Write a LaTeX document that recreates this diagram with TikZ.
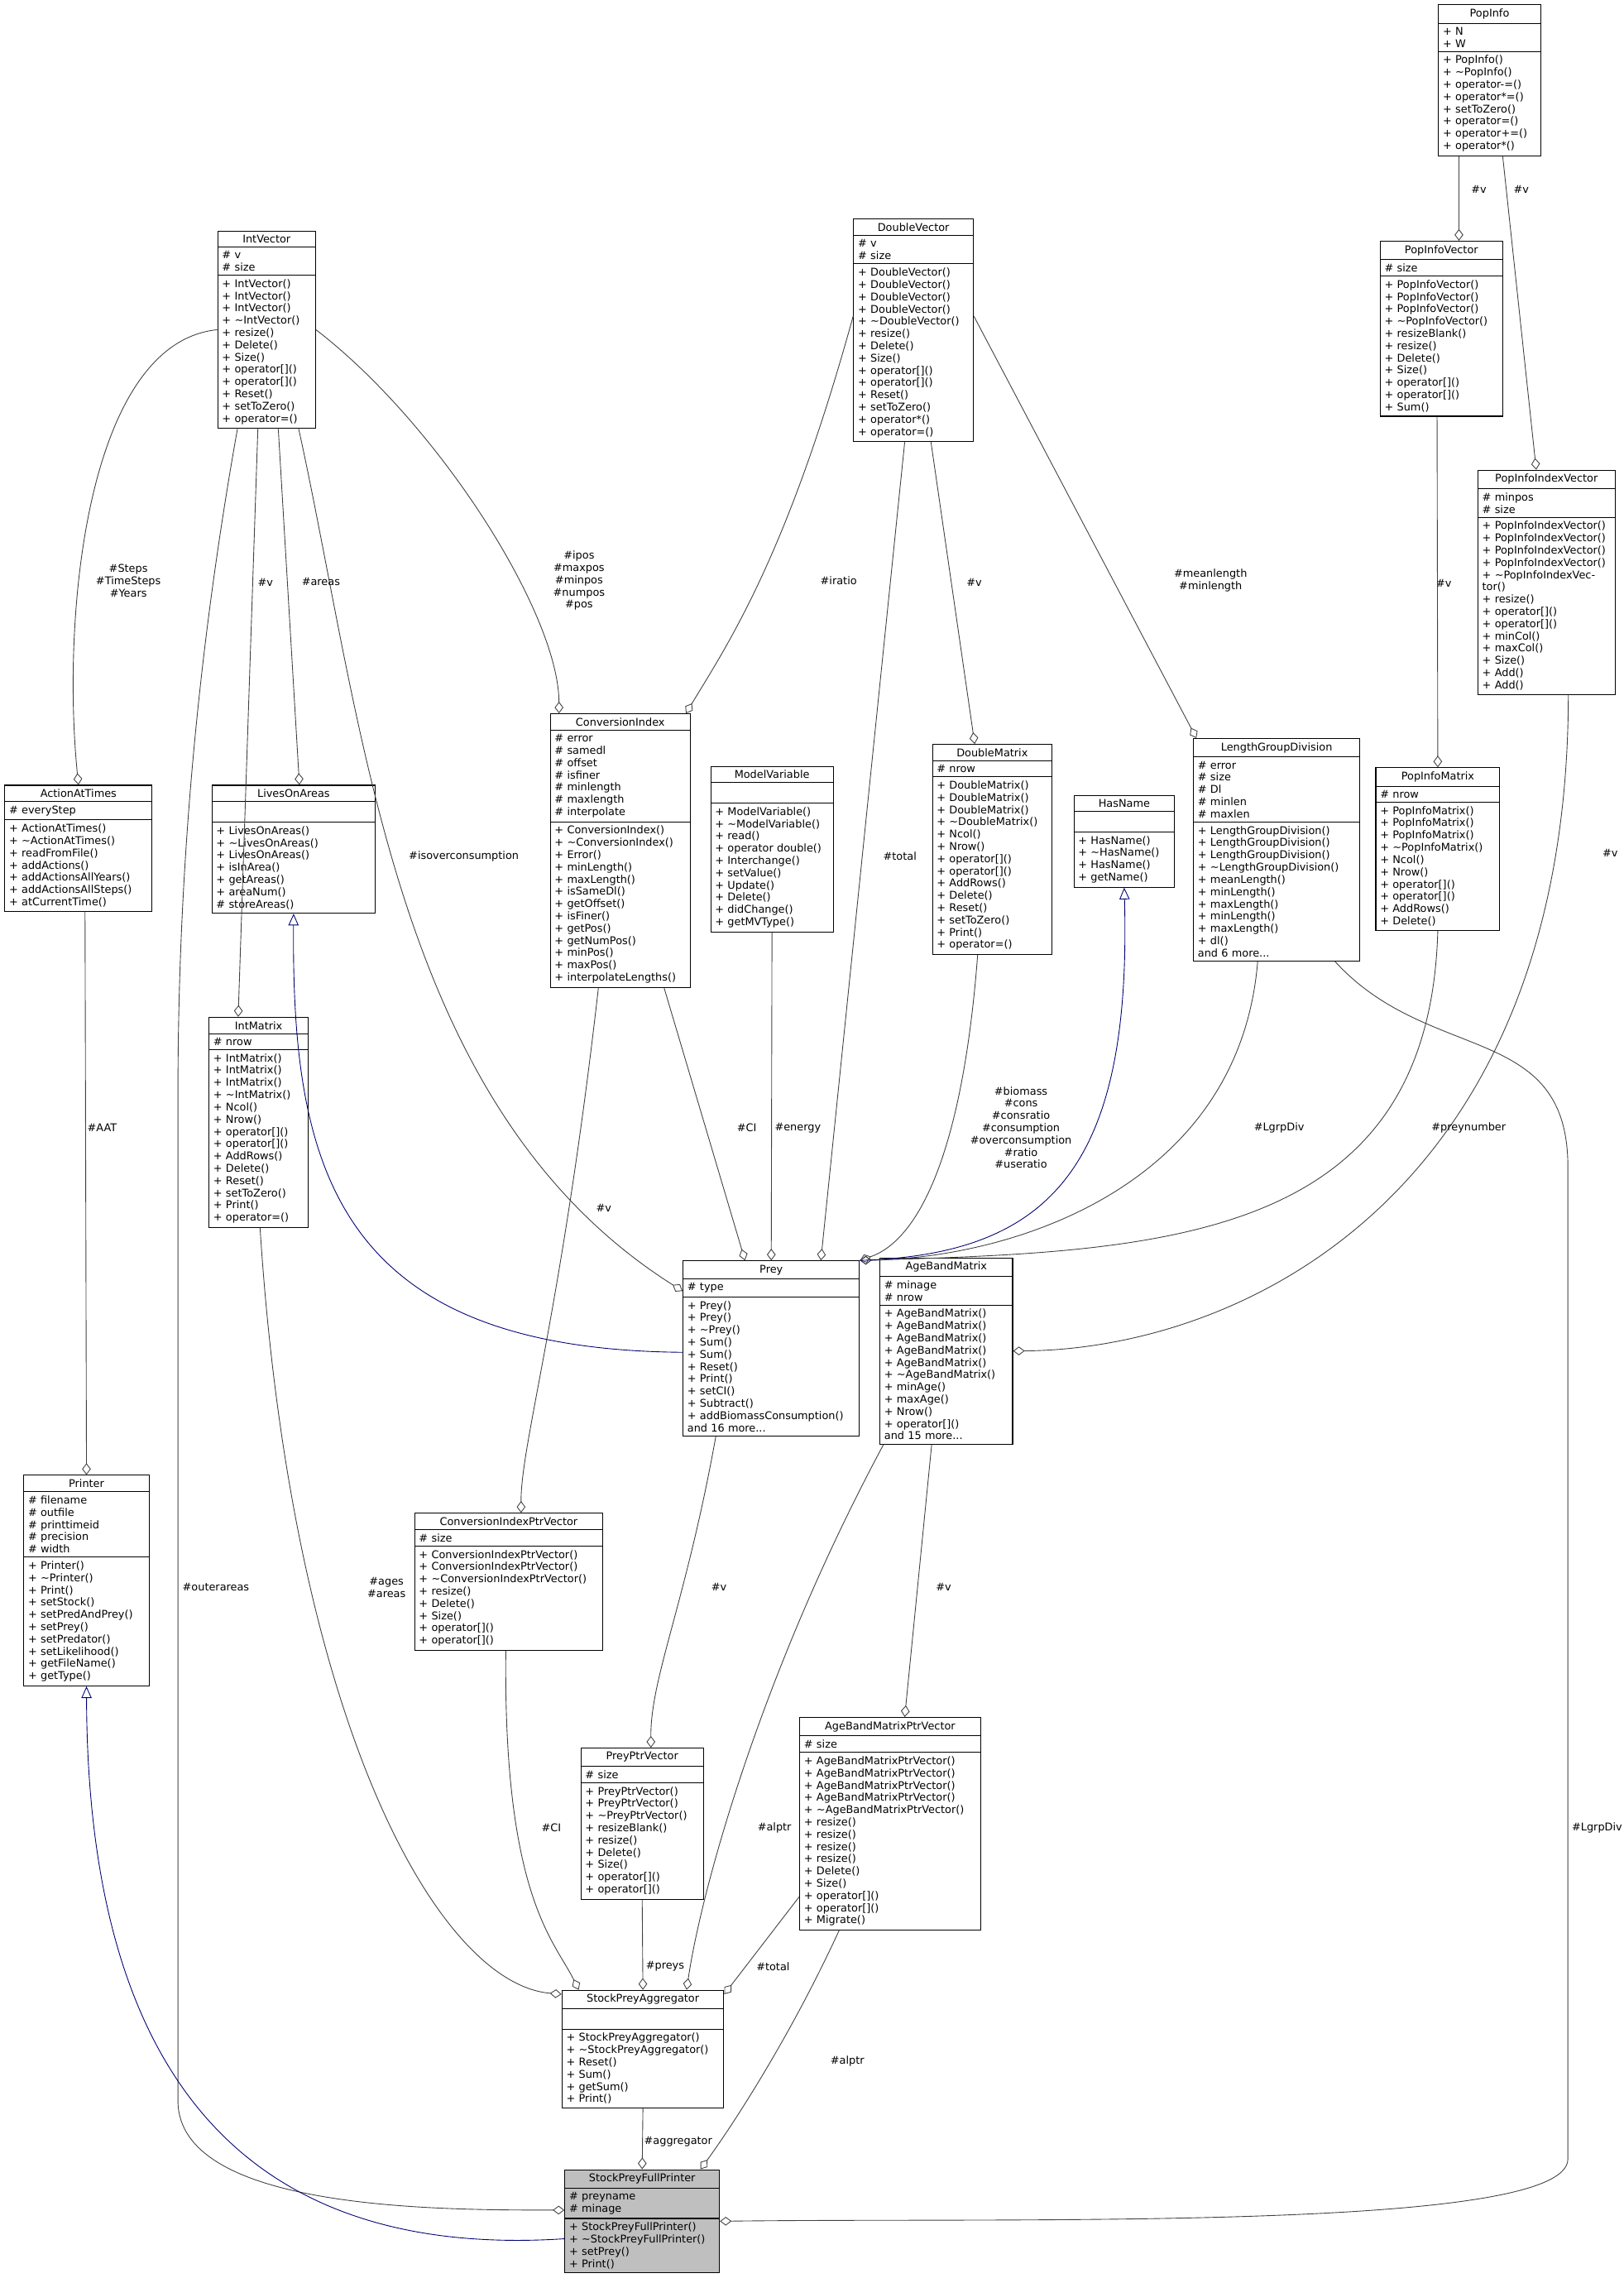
\documentclass[tikz,border=0pt]{standalone}
\usepackage{fontspec}
\setmainfont{DejaVu Sans}
\usetikzlibrary{shapes.multipart,arrows.meta}

\tikzset{
  umlbox/.style={rectangle split, rectangle split parts=3, draw=black, line width=0.6pt,
    inner xsep=3pt, inner ysep=2.5pt, align=left,
    font=\fontsize{7.3pt}{8.4pt}\selectfont},
  agg/.style={draw=black!75, line width=0.5pt, -{Diamond[open,length=8pt,width=6pt]}},
  inh/.style={draw=blue!45!black, line width=0.5pt, -{Triangle[open,length=8pt,width=7pt]}},
  lbl/.style={font=\fontsize{7.3pt}{8.4pt}\selectfont, align=center, inner sep=0pt},
}
% class box: name, left, top, width, title, attributes, methods
\newcommand\umlclass[8][]{%
  \node[umlbox, #1, anchor=north west, text width={\dimexpr #4pt-6pt\relax}] (#2) at (#3)
    {\makebox[\linewidth]{#5}\nodepart{two}#6\nodepart{three}#7#8};}
\newcommand\ct{\textasciitilde}

\begin{document}
\begin{tikzpicture}[x=1pt,y=-1pt]
  \useasboundingbox (0,0) rectangle (1113,1565);
  %% classes
  \umlclass{PopInfo}{986,3}{70}{PopInfo}{+ N\\+ W}{+ PopInfo()\\+ \ct PopInfo()\\+ operator-=()\\+ operator*=()\\+ setToZero()\\+ operator=()\\+ operator+=()\\+ operator*()}{}
  \umlclass{PopInfoVector}{946,165}{84}{PopInfoVector}{\# size}{+ PopInfoVector()\\+ PopInfoVector()\\+ PopInfoVector()\\+ \ct PopInfoVector()\\+ resizeBlank()\\+ resize()\\+ Delete()\\+ Size()\\+ operator[]()\\+ operator[]()\\+ Sum()}{}
  \umlclass{PopInfoIndexVector}{1013,322}{94}{PopInfoIndexVector}{\# minpos\\\# size}{+ PopInfoIndexVector()\\+ PopInfoIndexVector()\\+ PopInfoIndexVector()\\+ PopInfoIndexVector()\\+ \ct PopInfoIndexVector()\\+ resize()\\+ operator[]()\\+ operator[]()\\+ minCol()\\+ maxCol()\\+ Size()\\+ Add()\\+ Add()}{}
  \umlclass{IntVector}{149,158}{67}{IntVector}{\# v\\\# size}{+ IntVector()\\+ IntVector()\\+ IntVector()\\+ \ct IntVector()\\+ resize()\\+ Delete()\\+ Size()\\+ operator[]()\\+ operator[]()\\+ Reset()\\+ setToZero()\\+ operator=()}{}
  \umlclass{DoubleVector}{585,150}{82}{DoubleVector}{\# v\\\# size}{+ DoubleVector()\\+ DoubleVector()\\+ DoubleVector()\\+ DoubleVector()\\+ \ct DoubleVector()\\+ resize()\\+ Delete()\\+ Size()\\+ operator[]()\\+ operator[]()\\+ Reset()\\+ setToZero()\\+ operator*()\\+ operator=()}{}
  \umlclass{ActionAtTimes}{3,538}{101}{ActionAtTimes}{\# everyStep}{+ ActionAtTimes()\\+ \ct ActionAtTimes()\\+ readFromFile()\\+ addActions()\\+ addActionsAllYears()\\+ addActionsAllSteps()\\+ atCurrentTime()}{}
  \umlclass{LivesOnAreas}{145,538}{112}{LivesOnAreas}{\strut}{+ LivesOnAreas()\\+ \ct LivesOnAreas()\\+ LivesOnAreas()\\+ isInArea()\\+ getAreas()\\+ areaNum()\\\# storeAreas()}{}
  \umlclass{ConversionIndex}{377,489}{96}{ConversionIndex}{\# error\\\# samedl\\\# offset\\\# isfiner\\\# minlength\\\# maxlength\\\# interpolate}{+ ConversionIndex()\\+ \ct ConversionIndex()\\+ Error()\\+ minLength()\\+ maxLength()\\+ isSameDl()\\+ getOffset()\\+ isFiner()\\+ getPos()\\+ getNumPos()\\+ minPos()\\+ maxPos()\\+ interpolateLengths()}{}
  \umlclass{ModelVariable}{487,525}{84}{ModelVariable}{\strut}{+ ModelVariable()\\+ \ct ModelVariable()\\+ read()\\+ operator double()\\+ Interchange()\\+ setValue()\\+ Update()\\+ Delete()\\+ didChange()\\+ getMVType()}{}
  \umlclass{DoubleMatrix}{639,510}{82}{DoubleMatrix}{\# nrow}{+ DoubleMatrix()\\+ DoubleMatrix()\\+ DoubleMatrix()\\+ \ct DoubleMatrix()\\+ Ncol()\\+ Nrow()\\+ operator[]()\\+ operator[]()\\+ AddRows()\\+ Delete()\\+ Reset()\\+ setToZero()\\+ Print()\\+ operator=()}{}
  \umlclass{HasName}{736,545}{69}{HasName}{\strut}{+ HasName()\\+ \ct HasName()\\+ HasName()\\+ getName()}{}
  \umlclass{LengthGroupDivision}{818,506}{114}{LengthGroupDivision}{\# error\\\# size\\\# Dl\\\# minlen\\\# maxlen}{+ LengthGroupDivision()\\+ LengthGroupDivision()\\+ LengthGroupDivision()\\+ \ct LengthGroupDivision()\\+ meanLength()\\+ minLength()\\+ maxLength()\\+ minLength()\\+ maxLength()\\+ dl()\\and 6 more...}{}
  \umlclass{PopInfoMatrix}{943,526}{85}{PopInfoMatrix}{\# nrow}{+ PopInfoMatrix()\\+ PopInfoMatrix()\\+ PopInfoMatrix()\\+ \ct PopInfoMatrix()\\+ Ncol()\\+ Nrow()\\+ operator[]()\\+ operator[]()\\+ AddRows()\\+ Delete()}{}
  \umlclass{IntMatrix}{143,697}{68}{IntMatrix}{\# nrow}{+ IntMatrix()\\+ IntMatrix()\\+ IntMatrix()\\+ \ct IntMatrix()\\+ Ncol()\\+ Nrow()\\+ operator[]()\\+ operator[]()\\+ AddRows()\\+ Delete()\\+ Reset()\\+ setToZero()\\+ Print()\\+ operator=()}{}
  \umlclass{Prey}{468,864}{121}{Prey}{\# type}{+ Prey()\\+ Prey()\\+ \ct Prey()\\+ Sum()\\+ Sum()\\+ Reset()\\+ Print()\\+ setCI()\\+ Subtract()\\+ addBiomassConsumption()\\and 16 more...}{}
  \umlclass{AgeBandMatrix}{603,862}{91}{AgeBandMatrix}{\# minage\\\# nrow}{+ AgeBandMatrix()\\+ AgeBandMatrix()\\+ AgeBandMatrix()\\+ AgeBandMatrix()\\+ AgeBandMatrix()\\+ \ct AgeBandMatrix()\\+ minAge()\\+ maxAge()\\+ Nrow()\\+ operator[]()\\and 15 more...}{}
  \umlclass{Printer}{16,1011}{86}{Printer}{\# filename\\\# outfile\\\# printtimeid\\\# precision\\\# width}{+ Printer()\\+ \ct Printer()\\+ Print()\\+ setStock()\\+ setPredAndPrey()\\+ setPrey()\\+ setPredator()\\+ setLikelihood()\\+ getFileName()\\+ getType()}{}
  \umlclass{ConversionIndexPtrVector}{284,1037}{129}{ConversionIndexPtrVector}{\# size}{+ ConversionIndexPtrVector()\\+ ConversionIndexPtrVector()\\+ \ct ConversionIndexPtrVector()\\+ resize()\\+ Delete()\\+ Size()\\+ operator[]()\\+ operator[]()}{}
  \umlclass{AgeBandMatrixPtrVector}{548,1177}{124}{AgeBandMatrixPtrVector}{\# size}{+ AgeBandMatrixPtrVector()\\+ AgeBandMatrixPtrVector()\\+ AgeBandMatrixPtrVector()\\+ AgeBandMatrixPtrVector()\\+ \ct AgeBandMatrixPtrVector()\\+ resize()\\+ resize()\\+ resize()\\+ resize()\\+ Delete()\\+ Size()\\+ operator[]()\\+ operator[]()\\+ Migrate()}{}
  \umlclass{PreyPtrVector}{398,1198}{84}{PreyPtrVector}{\# size}{+ PreyPtrVector()\\+ PreyPtrVector()\\+ \ct PreyPtrVector()\\+ resizeBlank()\\+ resize()\\+ Delete()\\+ Size()\\+ operator[]()\\+ operator[]()}{}
  \umlclass{StockPreyAggregator}{385,1364}{111}{StockPreyAggregator}{\strut}{+ StockPreyAggregator()\\+ \ct StockPreyAggregator()\\+ Reset()\\+ Sum()\\+ getSum()\\+ Print()}{}
  \umlclass[fill=black!25]{StockPreyFullPrinter}{387,1487}{106}{StockPreyFullPrinter}{\# preyname\\\# minage}{+ StockPreyFullPrinter()\\+ \ct StockPreyFullPrinter()\\+ setPrey()\\+ Print()}{}
  %% associations
  \draw[agg] ([xshift=-21pt]PopInfo.south) -- ([xshift=12pt]PopInfoVector.north);
  \draw[agg] ([xshift=9pt]PopInfo.south) -- ([xshift=-7pt]PopInfoIndexVector.north);
  \draw[agg] ([xshift=-3pt]PopInfoVector.south) -- (PopInfoMatrix.north);
  \draw[agg] ([xshift=15pt]PopInfoIndexVector.south) .. controls (1075,820) and (850,925) .. (AgeBandMatrix.east);
  \draw[agg] (IntVector.west) .. controls (60,235) and (42,420) .. (ActionAtTimes.north);
  \draw[agg] ([xshift=8pt]IntVector.south) -- ([xshift=4pt]LivesOnAreas.north);
  \draw[agg] ([xshift=-6pt]IntVector.south) -- ([xshift=-14pt]IntMatrix.north);
  \draw[agg] (IntVector.east) .. controls (300,290) and (383,420) .. ([xshift=-42pt]ConversionIndex.north);
  \draw[agg] ([xshift=22pt]IntVector.south) .. controls (250,500) and (270,760) .. ([yshift=-21pt]Prey.north west);
  \draw[agg] ([xshift=-20pt]IntVector.south) .. controls (135,450) and (122,600) .. (122,750) -- (122,1440)
    .. controls (122,1515) and (300,1515) .. ([yshift=-28pt]StockPreyFullPrinter.north west);
  \draw[agg] ([yshift=10pt]DoubleVector.west) .. controls (540,380) and (500,440) .. ([xshift=45pt]ConversionIndex.north);
  \draw[agg] ([xshift=-6pt]DoubleVector.south) -- ([xshift=34pt]Prey.north);
  \draw[agg] ([xshift=12pt]DoubleVector.south) -- ([xshift=-12pt]DoubleMatrix.north);
  \draw[agg] ([yshift=10pt]DoubleVector.east) -- ([xshift=-55pt]LengthGroupDivision.north);
  \draw[agg] ([xshift=30pt]ConversionIndex.south) -- ([xshift=-18pt]Prey.north);
  \draw[agg] (ModelVariable.south) -- (Prey.north);
  \draw[agg] ([xshift=-10pt]DoubleMatrix.south) .. controls (660,790) and (630,850) .. (Prey.north east);
  \draw[agg] ([xshift=-13pt]LengthGroupDivision.south) .. controls (850,810) and (700,862) .. (Prey.north east);
  \draw[agg] (PopInfoMatrix.south) .. controls (980,850) and (800,858) .. (Prey.north east);
  \draw[agg] ([xshift=4.5pt]ActionAtTimes.south) -- (Printer.north);
  \draw[agg] ([xshift=-15pt]ConversionIndex.south) .. controls (385,900) and (357,990) .. ([xshift=8.5pt]ConversionIndexPtrVector.north);
  \draw[agg] ([xshift=-38pt]Prey.south) .. controls (470,1100) and (446,1150) .. ([xshift=6pt]PreyPtrVector.north);
  \draw[agg] ([xshift=-10pt]AgeBandMatrix.south) -- ([xshift=10pt]AgeBandMatrixPtrVector.north);
  \draw[agg] ([xshift=-43pt]AgeBandMatrix.south) .. controls (520,1150) and (480,1300) .. ([xshift=30pt]StockPreyAggregator.north);
  \draw[agg] ([xshift=1pt]IntMatrix.south) .. controls (200,1180) and (300,1360) .. ([yshift=-3pt]StockPreyAggregator.north west);
  \draw[agg] ([xshift=-2pt]ConversionIndexPtrVector.south) .. controls (345,1300) and (380,1330) .. ([xshift=-44pt]StockPreyAggregator.north);
  \draw[agg] (PreyPtrVector.south) -- (StockPreyAggregator.north);
  \draw[agg] ([yshift=-50pt]AgeBandMatrixPtrVector.west) -- ([yshift=-3pt]StockPreyAggregator.north east);
  \draw[agg] (StockPreyAggregator.south) -- (StockPreyFullPrinter.north);
  \draw[agg] ([xshift=-35pt]AgeBandMatrixPtrVector.south) .. controls (540,1400) and (500,1460) .. ([xshift=40pt]StockPreyFullPrinter.north);
  \draw[agg] ([xshift=40pt]LengthGroupDivision.south) .. controls (980,730) and (1075,700) .. (1075,800) -- (1075,1480)
    .. controls (1075,1530) and (700,1520) .. (StockPreyFullPrinter.east);
  %% inheritance
  \draw[inh] (Prey.north east) .. controls (720,860) and (776,800) .. (HasName.south);
  \draw[inh] ([yshift=-63pt]Prey.north west) .. controls (230,925) and (200,800) .. (LivesOnAreas.south);
  \draw[inh] ([yshift=-12pt]StockPreyFullPrinter.west) .. controls (150,1550) and (60,1400) .. (Printer.south);
  %% labels
  \node[lbl] (lPIv) at (1014,130) {\#v};
  \node[lbl] (lPIIv) at (1043,130) {\#v};
  \node[lbl] (lPIVv) at (990,400) {\#v};
  \node[lbl] (lABMv) at (1104,585) {\#v};
  \node[lbl] (lSteps) at (88,398) {\#Steps\\\#TimeSteps\\\#Years};
  \node[lbl] (lareas) at (220,399) {\#areas};
  \node[lbl] (lIMv) at (182,399) {\#v};
  \node[lbl] (lpos) at (397,398) {\#ipos\\\#maxpos\\\#minpos\\\#numpos\\\#pos};
  \node[lbl] (lisover) at (318,587) {\#isoverconsumption};
  \node[lbl] (louter) at (148,1088) {\#outerareas};
  \node[lbl] (liratio) at (575,398) {\#iratio};
  \node[lbl] (ltotal) at (617,587) {\#total};
  \node[lbl] (lDMv) at (668,399) {\#v};
  \node[lbl] (lmean) at (830,398) {\#meanlength\\\#minlength};
  \node[lbl] (lCI) at (512,773) {\#CI};
  \node[lbl] (lenergy) at (547,773) {\#energy};
  \node[lbl] (lbiomass) at (700,773) {\#biomass\\\#cons\\\#consratio\\\#consumption\\\#overconsumption\\\#ratio\\\#useratio};
  \node[lbl] (lLgrp) at (877,773) {\#LgrpDiv};
  \node[lbl] (lpreynum) at (1007,773) {\#preynumber};
  \node[lbl] (lAAT) at (70,773) {\#AAT};
  \node[lbl] (lCIPVv) at (414,828) {\#v};
  \node[lbl] (lPPVv) at (493,1088) {\#v};
  \node[lbl] (lABMPVv) at (647,1088) {\#v};
  \node[lbl] (lagesareas) at (265,1088) {\#ages\\\#areas};
  \node[lbl] (lalptrA) at (531,1253) {\#alptr};
  \node[lbl] (lCIb) at (378,1253) {\#CI};
  \node[lbl] (lpreys) at (456,1348) {\#preys};
  \node[lbl] (ltotalb) at (530,1348) {\#total};
  \node[lbl] (laggr) at (465,1468) {\#aggregator};
  \node[lbl] (lalptrB) at (581,1413) {\#alptr};
  \node[lbl] (lLgrpB) at (1095,1253) {\#LgrpDiv};
\end{tikzpicture}
\end{document}
